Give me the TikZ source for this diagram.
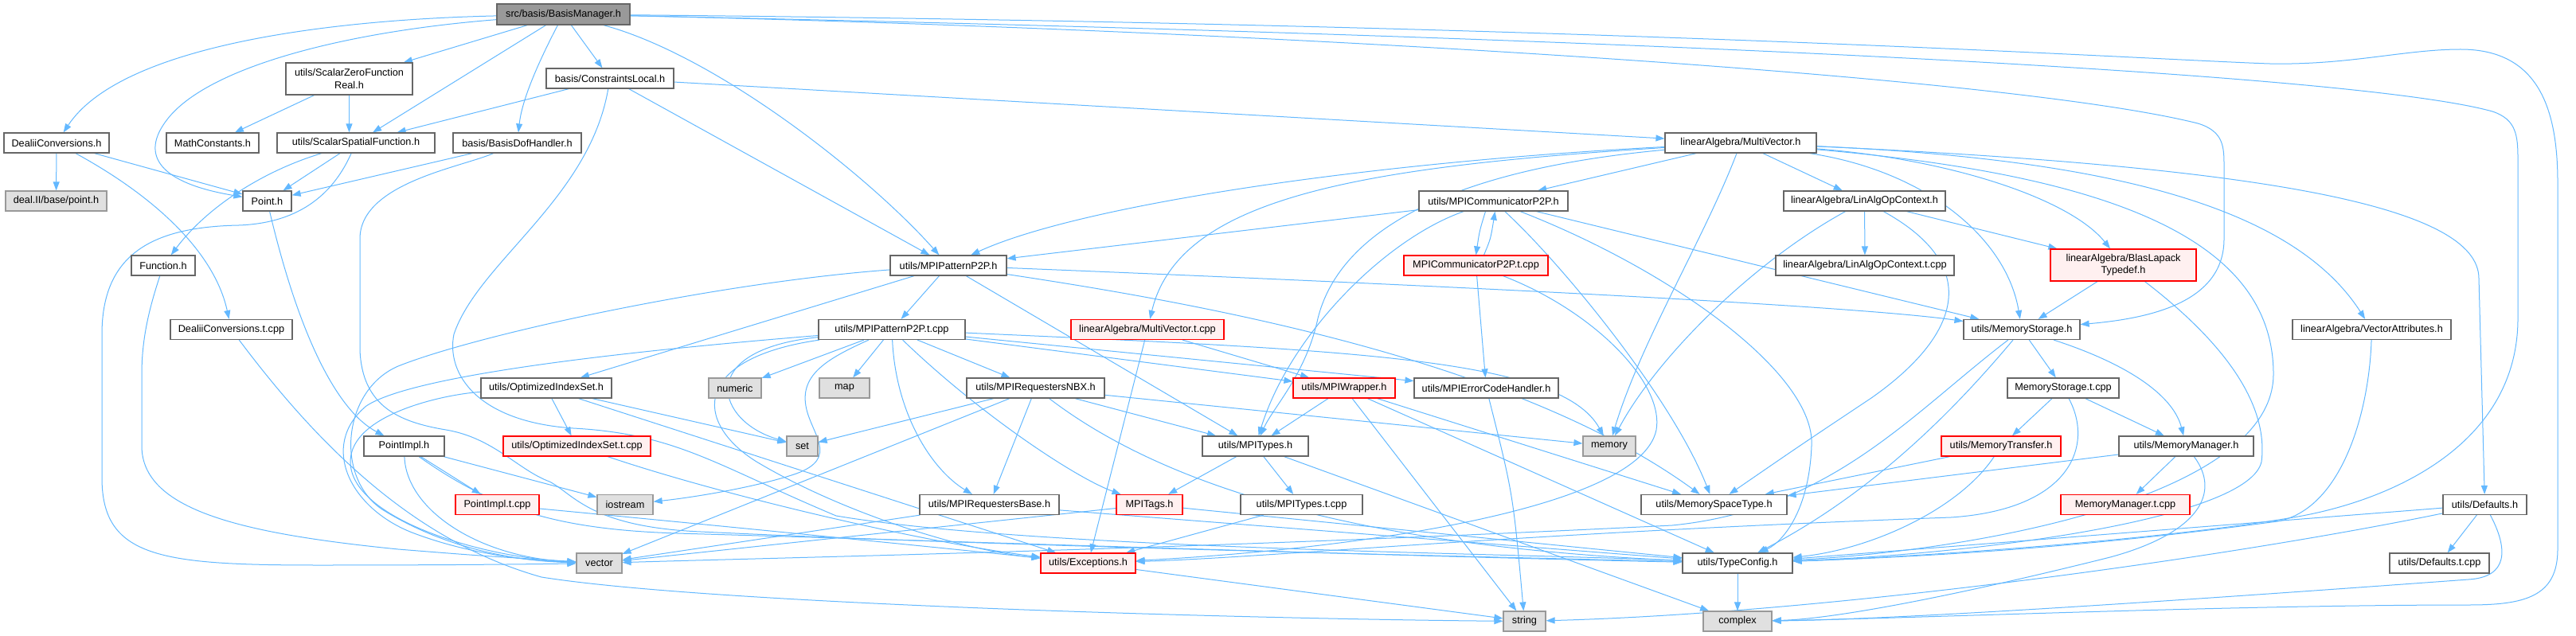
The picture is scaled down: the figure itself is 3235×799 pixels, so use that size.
\documentclass[tikz,border=0pt]{standalone}
\usepackage{fontspec}
\setmainfont{Liberation Sans}
\usetikzlibrary{arrows.meta}
\definecolor{edgec}{HTML}{63B8FF}
\definecolor{nodeborder}{HTML}{666666}
\definecolor{grayborder}{HTML}{999999}
\definecolor{grayfill}{HTML}{E0E0E0}
\definecolor{mainfill}{HTML}{999999}
\definecolor{redfill}{HTML}{FFF0F0}
\definecolor{redborder}{HTML}{FF0000}
\pgfdeclarelayer{edgelayer}
\pgfsetlayers{edgelayer,main}
\tikzset{
  nb/.style={draw=nodeborder, fill=white, line width=1.2pt, inner sep=0pt, font=\fontsize{12.7}{15.2}\selectfont, align=center},
  ng/.style={nb, draw=grayborder, fill=grayfill},
  nr/.style={nb, draw=redborder, fill=redfill},
  nm/.style={nb, draw=nodeborder, fill=mainfill},
  e/.style={draw=edgec, line width=1pt, -{Triangle[length=11pt,width=8pt]}},
}
\newcommand\mynode[7]{\node[#1, minimum width=#5pt, minimum height=#6pt] (#2) at (#3,#4) {#7};}
\begin{document}
\begin{tikzpicture}[x=1pt,y=-1pt]
\useasboundingbox (0,0) rectangle (3235,799);
\mynode{nm}{bm}{707.5}{18}{167}{26}{src/basis/BasisManager.h}
\mynode{nb}{szf}{438.5}{99}{159}{40}{utils/ScalarZeroFunction\\Real.h}
\mynode{nb}{cl}{766}{98.5}{160}{25}{basis/ConstraintsLocal.h}
\mynode{nb}{dch}{71}{179.5}{132}{25}{DealiiConversions.h}
\mynode{nb}{mc}{267}{179.5}{116}{25}{MathConstants.h}
\mynode{nb}{ssf}{447}{179.5}{198}{25}{utils/ScalarSpatialFunction.h}
\mynode{nb}{bdh}{649.5}{179.5}{161}{25}{basis/BasisDofHandler.h}
\mynode{nb}{mv}{2186}{179.5}{190}{25}{linearAlgebra/MultiVector.h}
\mynode{ng}{dpt}{70.5}{252.5}{127}{25}{deal.II/base/point.h}
\mynode{nb}{pt}{335.5}{252.5}{61}{25}{Point.h}
\mynode{nb}{mcomm}{1875.5}{252.5}{187}{25}{utils/MPICommunicatorP2P.h}
\mynode{nb}{lao}{2341.5}{252.5}{203}{25}{linearAlgebra/LinAlgOpContext.h}
\mynode{nb}{fn}{205}{333.5}{80}{25}{Function.h}
\mynode{nb}{pp}{1191}{333.5}{146}{25}{utils/MPIPatternP2P.h}
\mynode{nr}{mcommt}{1853.5}{333.5}{181}{25}{MPICommunicatorP2P.t.cpp}
\mynode{nb}{laot}{2342}{333.5}{224}{25}{linearAlgebra/LinAlgOpContext.t.cpp}
\mynode{nr}{blas}{2666.5}{333}{183}{40}{linearAlgebra/BlasLapack\\Typedef.h}
\mynode{nb}{dct}{290.5}{414}{153}{25}{DealiiConversions.t.cpp}
\mynode{nb}{ppt}{1120}{414}{184}{25}{utils/MPIPatternP2P.t.cpp}
\mynode{nr}{mvt}{1441}{414}{192}{25}{linearAlgebra/MultiVector.t.cpp}
\mynode{nb}{ms}{2539}{414}{146}{25}{utils/MemoryStorage.h}
\mynode{nb}{va}{2978.5}{414}{199}{25}{linearAlgebra/VectorAttributes.h}
\mynode{nb}{ois}{686}{487.5}{164}{25}{utils/OptimizedIndexSet.h}
\mynode{ng}{numeric}{923}{487.5}{66}{25}{numeric}
\mynode{ng}{map}{1060.5}{487.5}{63}{25}{map}
\mynode{nb}{nbx}{1300.5}{487.5}{173}{25}{utils/MPIRequestersNBX.h}
\mynode{nr}{wrap}{1688}{487.5}{128}{25}{utils/MPIWrapper.h}
\mynode{nb}{err}{1866.5}{487.5}{181}{25}{utils/MPIErrorCodeHandler.h}
\mynode{nb}{mst}{2591}{487.5}{140}{25}{MemoryStorage.t.cpp}
\mynode{nb}{pi}{507.5}{560.5}{101}{25}{PointImpl.h}
\mynode{nr}{oist}{724.5}{560.5}{185}{25}{utils/OptimizedIndexSet.t.cpp}
\mynode{ng}{set}{1007.5}{560.5}{39}{25}{set}
\mynode{nb}{mt}{1576.5}{560.5}{133}{25}{utils/MPITypes.h}
\mynode{ng}{memory}{2021}{560.5}{66}{25}{memory}
\mynode{nr}{mtr}{2513}{560.5}{150}{25}{utils/MemoryTransfer.h}
\mynode{nb}{mm}{2745.5}{560.5}{169}{25}{utils/MemoryManager.h}
\mynode{nr}{pit}{624.5}{634}{105}{25}{PointImpl.t.cpp}
\mynode{ng}{ios}{785}{634}{70}{25}{iostream}
\mynode{nb}{rb}{1242.5}{634}{175}{25}{utils/MPIRequestersBase.h}
\mynode{nr}{tags}{1443.5}{634}{83}{25}{MPITags.h}
\mynode{nb}{mtt}{1634.5}{634}{153}{25}{utils/MPITypes.t.cpp}
\mynode{nb}{mst2}{2152.5}{634}{183}{25}{utils/MemorySpaceType.h}
\mynode{nr}{mmt}{2669}{634}{162}{25}{MemoryManager.t.cpp}
\mynode{nb}{def}{3120.5}{634}{105}{25}{utils/Defaults.h}
\mynode{ng}{vec}{752.5}{707.5}{57}{25}{vector}
\mynode{nr}{exc}{1366.5}{707.5}{119}{25}{utils/Exceptions.h}
\mynode{nb}{tc}{2182}{707.5}{138}{25}{utils/TypeConfig.h}
\mynode{nb}{deft}{3063.5}{707.5}{125}{25}{utils/Defaults.t.cpp}
\mynode{ng}{str}{1914.5}{780.5}{53}{25}{string}
\mynode{ng}{cpx}{2182}{780.5}{86}{25}{complex}
\begin{pgfonlayer}{edgelayer}
% BasisManager
\draw[e] (bm) .. controls (400,25) and (150,60) .. (dch);
\draw[e] (bm) .. controls (430,40) and (260,85) .. (210,150) .. controls (175,195) and (200,230) .. (pt);
\draw[e] (bm) -- (szf);
\draw[e] (bm) -- (ssf);
\draw[e] (bm) .. controls (670,90) and (655,130) .. (bdh);
\draw[e] (bm) -- (cl);
\draw[e] (bm) .. controls (900,70) and (1090,220) .. (pp);
\draw[e] (bm) .. controls (1500,35) and (2500,90) .. (2760,155) .. controls (2793,165) and (2793,185) .. (2793,210) -- (2793,300) .. controls (2793,380) and (2700,400) .. (ms);
\draw[e] (bm) .. controls (2000,45) and (2950,90) .. (3130,140) .. controls (3160,150) and (3162,170) .. (3162,200) -- (3162,400) .. controls (3162,560) and (3000,630) .. (2880,650) .. controls (2700,680) and (2400,700) .. (tc);
\draw[e] (bm) .. controls (2000,30) and (2700,75) .. (2850,80) .. controls (2950,82) and (3020,62) .. (3090,62) .. controls (3190,62) and (3212,140) .. (3212,230) -- (3212,690) .. controls (3212,750) and (3170,760) .. (3100,760) .. controls (2800,760) and (2400,777) .. (cpx);
% ScalarZeroFunctionReal
\draw[e] (szf) -- (mc);
\draw[e] (szf.south) -- (szf.south |- ssf.north);
% ConstraintsLocal
\draw[e] (cl) -- (ssf);
\draw[e] (cl) -- (pp);
\draw[e] (cl) -- (mv);
\draw[e] (cl) .. controls (740,250) and (600,330) .. (570,420) .. controls (560,470) and (600,530) .. (720,538) .. controls (850,545) and (900,585) .. (1050,648) .. controls (1300,690) and (1900,695) .. (tc);
% DealiiConversions
\draw[e] (dch) -- (dpt);
\draw[e] (dch) -- (pt);
\draw[e] (dch) .. controls (200,250) and (270,320) .. (dct);
\draw[e] (dct) .. controls (400,560) and (520,680) .. (680,725) .. controls (900,760) and (1600,778) .. (str);
% ScalarSpatialFunction
\draw[e] (ssf) .. controls (330,215) and (260,260) .. (fn);
\draw[e] (ssf) -- (pt);
\draw[e] (ssf) .. controls (420,240) and (380,280) .. (300,283) .. controls (190,285) and (128,320) .. (128,420) -- (128,600) .. controls (128,700) and (200,710) .. (400,710) .. controls (550,710) and (650,709) .. (vec);
\draw[e] (fn) .. controls (190,380) and (178,420) .. (178,470) -- (178,560) .. controls (178,640) and (300,670) .. (500,690) .. controls (600,698) .. (vec);
% Point
\draw[e] (pt) .. controls (380,440) and (430,520) .. (pi);
\draw[e] (pi) -- (pit);
\draw[e] (pi) -- (ios);
\draw[e] (pi) .. controls (510,640) and (600,700) .. (vec);
\draw[e] (pi) .. controls (620,640) and (700,665) .. (850,670) .. controls (1200,680) and (1800,700) .. (tc);
\draw[e] (pit) .. controls (900,660) and (1200,690) .. (exc);
% BasisDofHandler
\draw[e] (bdh) -- (pt);
\draw[e] (bdh) .. controls (580,210) and (452,230) .. (452,300) -- (452,440) .. controls (455,510) and (500,530) .. (560,540) .. controls (620,550) and (650,590) .. (690,605) .. controls (720,620) and (740,662) .. (880,668) .. controls (1300,688) and (1900,700) .. (tc);
% MultiVector
\draw[e] (mv) .. controls (1700,205) and (1350,260) .. (pp);
\draw[e] (mv) .. controls (1700,210) and (1480,250) .. (mvt);
\draw[e] (mv) .. controls (1800,215) and (1680,300) .. (1655,400) .. controls (1640,470) and (1600,510) .. (mt);
\draw[e] (mv) -- (mcomm);
\draw[e] (mv) -- (lao);
\draw[e] (mv) .. controls (2450,200) and (2600,250) .. (blas);
\draw[e] (mv) .. controls (2420,215) and (2520,300) .. (ms);
\draw[e] (mv) .. controls (2650,200) and (2880,260) .. (va);
\draw[e] (mv) .. controls (2850,210) and (3113,260) .. (3113,350) -- (def);
\draw[e] (mv) .. controls (2140,300) and (2060,430) .. (memory);
\draw[e] (mv) .. controls (2650,220) and (2855,300) .. (2855,470) .. controls (2855,620) and (2500,690) .. (tc);
% MPICommunicatorP2P
\draw[e] (mcomm) -- (pp);
\draw[e] ([xshift=-10pt]mcomm.south) .. controls (1858,290) .. (mcommt.north);
\draw[e] ([xshift=10pt]mcommt.north) .. controls (1872,300) .. ([xshift=2pt]mcomm.south);
\draw[e] (mcomm) .. controls (1740,300) and (1620,420) .. (mt);
\draw[e] (mcomm) .. controls (1960,330) and (2100,500) .. (mst2);
\draw[e] (mcomm) .. controls (2100,340) and (2280,470) .. (2275,560) .. controls (2272,640) and (2240,680) .. (tc);
\draw[e] (mcomm) -- (ms);
\draw[e] (mcommt) -- (err);
\draw[e] (mcommt) .. controls (2000,390) and (2090,480) .. (2080,540) .. controls (2060,640) and (1700,690) .. (exc);
% MPIPatternP2P
\draw[e] (pp) -- (ppt);
\draw[e] (pp) -- (ois);
\draw[e] (pp) .. controls (900,355) and (600,420) .. (500,460) .. controls (430,490) and (420,600) .. (480,640) .. controls (560,690) and (650,705) .. (vec);
\draw[e] (pp) -- (mt);
\draw[e] (pp) .. controls (1600,350) and (2300,380) .. (ms);
\draw[e] (pp) .. controls (1500,380) and (1900,450) .. (mst2);
% OptimizedIndexSet
\draw[e] (ois) -- (oist);
\draw[e] (ois) -- (set);
\draw[e] (ois) .. controls (560,495) and (440,520) .. (440,580) .. controls (440,650) and (600,700) .. (vec);
\draw[e] (ois) -- (exc);
\draw[e] (oist) .. controls (900,620) and (1150,680) .. (exc);
% MPIPatternP2P.t.cpp
\draw[e] (ppt) -- (numeric);
\draw[e] (ppt) -- (map);
\draw[e] (ppt) -- (nbx);
\draw[e] (ppt) .. controls (1125,520) and (1170,590) .. (rb);
\draw[e] (ppt) .. controls (1230,520) and (1350,600) .. (tags);
\draw[e] (ppt) -- (wrap);
\draw[e] (ppt) -- (err);
\draw[e] (ppt) .. controls (1700,440) and (1960,450) .. (memory);
\draw[e] (ppt) .. controls (870,440) and (900,530) .. (set);
\draw[e] (ppt) .. controls (1040,450) and (1005,470) .. (1012,510) .. controls (1018,545) and (1055,575) .. (1000,595) .. controls (950,612) and (870,625) .. (ios);
\draw[e] (ppt) .. controls (800,440) and (520,470) .. (460,510) .. controls (400,560) and (440,640) .. (520,670) .. controls (600,700) and (680,705) .. (vec);
\draw[e] (ppt) .. controls (870,450) and (870,530) .. (950,580) .. controls (1050,640) and (1200,690) .. (exc);
% MultiVector.t.cpp
\draw[e] (mvt) -- (exc);
\draw[e] (mvt) -- (wrap);
% NBX
\draw[e] (nbx) -- (set);
\draw[e] (nbx) -- (vec);
\draw[e] (nbx) -- (rb);
\draw[e] (nbx) -- (mt);
\draw[e] (nbx) -- (memory);
\draw[e] (nbx) .. controls (1500,640) and (1800,690) .. (tc);
% MPIWrapper
\draw[e] (wrap) -- (mt);
\draw[e] (wrap) -- (str);
\draw[e] (wrap) -- (mst2);
\draw[e] (wrap) -- (tc);
\draw[e] (err) .. controls (1900,620) .. (str);
% MPITypes
\draw[e] (mt) -- (tags);
\draw[e] (mt) -- (mtt);
\draw[e] (mt) -- (cpx);
\draw[e] (tags) -- (vec);
\draw[e] (tags) -- (tc);
\draw[e] (mtt) -- (exc);
\draw[e] (rb) -- (vec);
\draw[e] (rb) -- (tc);
\draw[e] (exc) -- (str);
% MemoryStorage
\draw[e] (ms) -- (mst);
\draw[e] (ms) .. controls (2680,460) and (2730,500) .. (mm);
\draw[e] (ms) .. controls (2450,520) and (2350,620) .. (tc);
\draw[e] (ms) .. controls (2400,520) and (2300,640) .. (2100,660) .. controls (1500,690) and (1000,700) .. (vec);
\draw[e] (mst) -- (mtr);
\draw[e] (mst) -- (mm);
\draw[e] (mst) .. controls (2630,560) and (2600,640) .. (2450,650) .. controls (1900,670) and (1600,700) .. (exc);
\draw[e] (mtr) -- (mst2);
\draw[e] (mtr) .. controls (2460,640) and (2350,690) .. (tc);
\draw[e] (mm) -- (mst2);
\draw[e] (mm) -- (mmt);
\draw[e] (mm) .. controls (2790,620) and (2760,670) .. (2650,700) .. controls (2450,750) and (2300,778) .. (cpx);
% BlasLapack
\draw[e] (blas) -- (ms);
\draw[e] (blas) .. controls (2780,420) and (2850,500) .. (2840,580) .. controls (2825,650) and (2500,695) .. (tc);
% VectorAttributes
\draw[e] (va) .. controls (2975,520) and (2940,640) .. (2860,655) .. controls (2600,690) and (2400,700) .. (tc);
% Defaults
\draw[e] (def) -- (deft);
\draw[e] (def) -- (tc);
\draw[e] (def) .. controls (2800,700) and (2300,770) .. (str);
\draw[e] (def) .. controls (3150,690) and (3150,725) .. (3100,728) .. controls (2800,750) and (2400,778) .. (cpx);
\draw[e] (tc) -- (cpx);
% LinAlgOpContext
\draw[e] (lao) -- (laot);
\draw[e] (lao) -- (blas);
\draw[e] (lao) .. controls (2200,330) and (2080,450) .. (memory);
\draw[e] (lao) .. controls (2500,340) and (2450,430) .. (2350,500) .. controls (2260,560) .. (mst2);
\end{pgfonlayer}
\end{tikzpicture}
\end{document}
